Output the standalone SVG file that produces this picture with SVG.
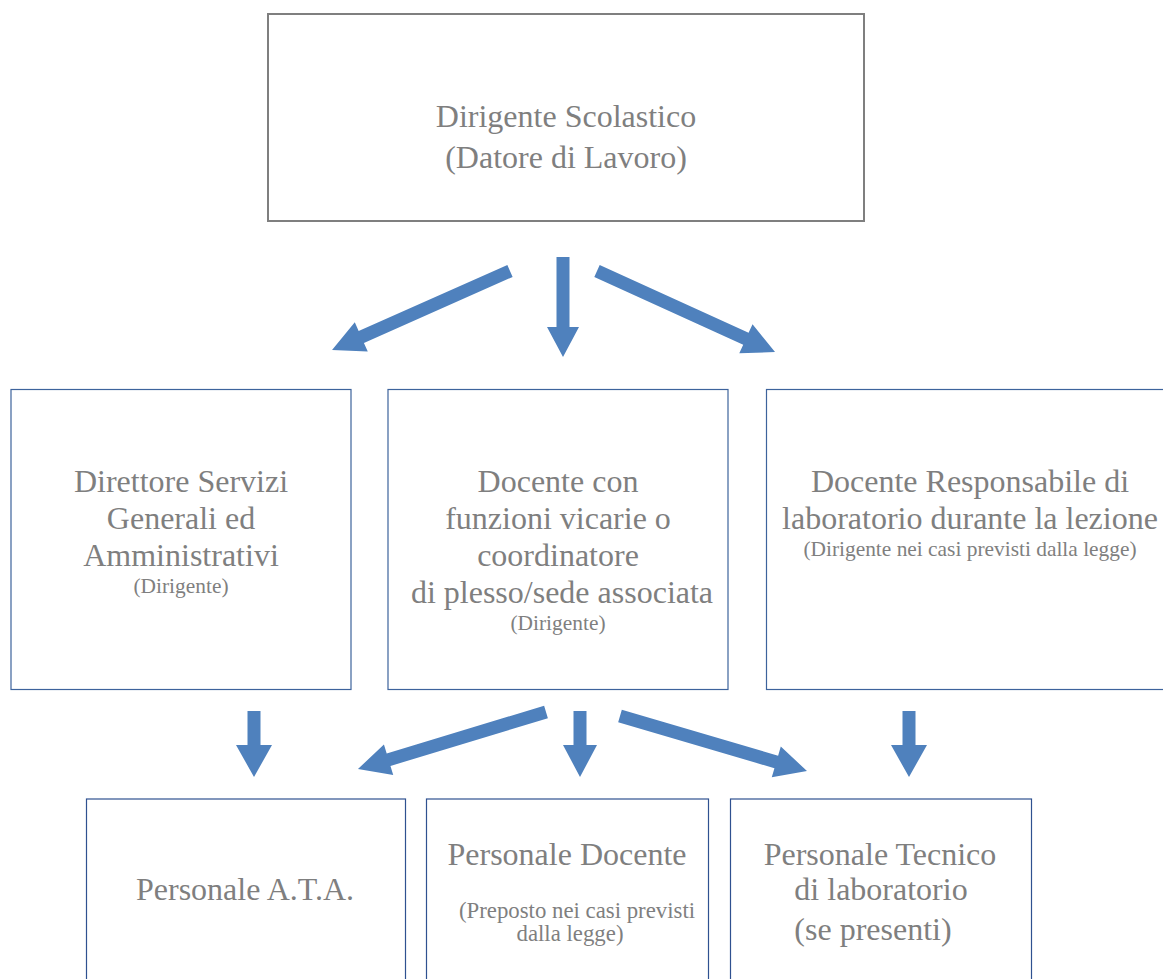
<svg xmlns="http://www.w3.org/2000/svg" width="1163" height="979" viewBox="0 0 1163 979">
<defs>
<style>
.t{font-family:"Liberation Serif","Times New Roman",serif;fill:#7f7f7f;text-anchor:middle}
.big{font-size:32px}
.sm{font-size:21.4px}
.sm2{font-size:22.8px}
.box{fill:#fff;stroke:#3d639c;stroke-width:1.2}
.box2{fill:#fff;stroke:#2f5190;stroke-width:1.2}
.top{fill:#fff;stroke:#7f7f7f;stroke-width:2}
.arr{fill:#4f81bd}
</style>
</defs>
<rect width="1163" height="979" fill="#fff"/>
<g id="n-dirigente">
<rect class="top" x="268" y="14" width="596" height="207"/>
<text class="t big" x="566" y="127">Dirigente Scolastico</text>
<text class="t big" x="566" y="168">(Datore di Lavoro)</text>
</g>
<g id="n-dsga">
<rect class="box" x="11" y="389.5" width="340" height="300"/>
<text class="t big" x="181" y="492">Direttore Servizi</text>
<text class="t big" x="181" y="529">Generali ed</text>
<text class="t big" x="181" y="566">Amministrativi</text>
<text class="t sm" x="181" y="593">(Dirigente)</text>
</g>
<g id="n-vicario">
<rect class="box" x="388" y="389.5" width="340" height="300"/>
<text class="t big" x="558" y="492">Docente con</text>
<text class="t big" x="558" y="529">funzioni vicarie o</text>
<text class="t big" x="558" y="566">coordinatore</text>
<text class="t big" x="562" y="603">di plesso/sede associata</text>
<text class="t sm" x="558" y="630">(Dirigente)</text>
</g>
<g id="n-lab">
<rect class="box" x="766.5" y="389.5" width="420" height="300"/>
<text class="t big" x="970" y="492">Docente Responsabile di</text>
<text class="t big" x="970" y="529">laboratorio durante la lezione</text>
<text class="t sm" x="970" y="556">(Dirigente nei casi previsti dalla legge)</text>
</g>
<g id="n-ata">
<rect class="box2" x="86.5" y="799" width="319" height="200"/>
<text class="t big" x="245" y="900">Personale A.T.A.</text>
</g>
<g id="n-docenti">
<rect class="box2" x="426.5" y="799" width="282" height="200"/>
<text class="t big" x="567" y="865">Personale Docente</text>
<text class="t sm2" x="577" y="918">(Preposto nei casi previsti</text>
<text class="t sm2" x="570" y="941">dalla legge)</text>
</g>
<g id="n-tecnico">
<rect class="box2" x="730.5" y="799" width="301" height="200"/>
<text class="t big" x="880" y="865">Personale Tecnico</text>
<text class="t big" x="881" y="900">di laboratorio</text>
<text class="t big" x="873" y="940">(se presenti)</text>
</g>
<g id="connectors" class="arr">
<path transform="translate(510,271) rotate(156.07)" d="M0,-6.5 H162.7 V-16 L194.7,0 L162.7,16 V6.5 H0 Z"/>
<path transform="translate(563,257) rotate(90)" d="M0,-6.5 H70 V-16 L100,0 L70,16 V6.5 H0 Z"/>
<path transform="translate(597,271) rotate(24.47)" d="M0,-6.5 H163.6 V-16 L195.6,0 L163.6,16 V6.5 H0 Z"/>
<path transform="translate(254,711) rotate(90)" d="M0,-6.5 H34 V-18 L66,0 L34,18 V6.5 H0 Z"/>
<path transform="translate(546,712) rotate(163.13)" d="M0,-6.5 H164.5 V-16 L196.5,0 L164.5,16 V6.5 H0 Z"/>
<path transform="translate(580,711) rotate(90)" d="M0,-6.5 H34 V-17 L66,0 L34,17 V6.5 H0 Z"/>
<path transform="translate(620,716) rotate(16.39)" d="M0,-6.5 H162.9 V-16 L194.9,0 L162.9,16 V6.5 H0 Z"/>
<path transform="translate(909,711) rotate(90)" d="M0,-6.5 H34 V-18 L66,0 L34,18 V6.5 H0 Z"/>
</g>
</svg>
